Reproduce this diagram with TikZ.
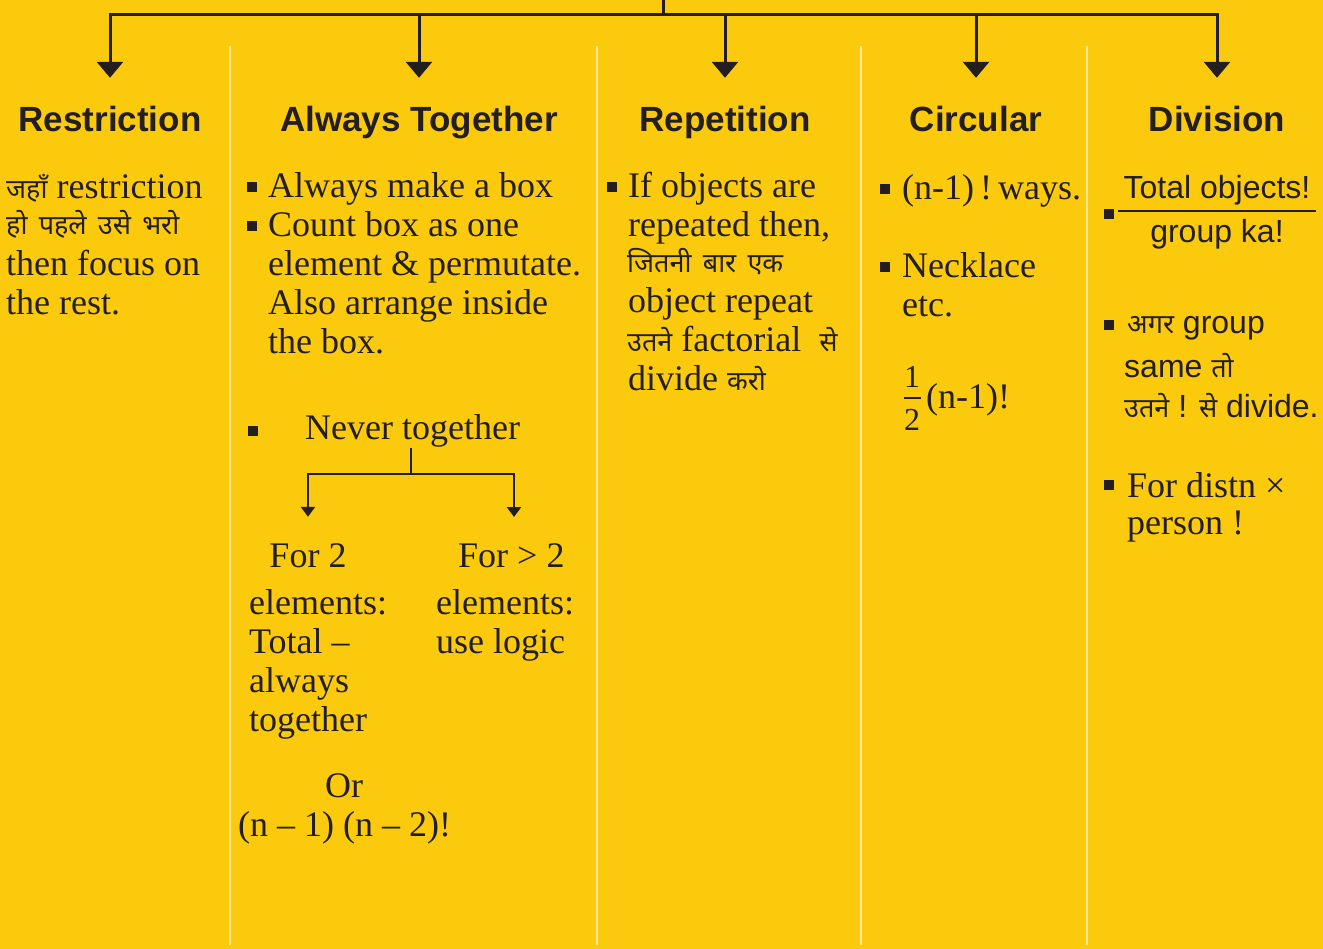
\documentclass[tikz,border=0pt]{standalone}
\usepackage{fontspec}
\setmainfont{Liberation Serif}
\newfontfamily\headfont{Liberation Sans}
\newfontfamily\devfont[Script=Devanagari,WordSpace=1.6]{Noto Sans}
\usetikzlibrary{arrows.meta}
\definecolor{bg}{RGB}{252,202,12}
\definecolor{ink}{RGB}{35,31,32}
\definecolor{sepcol}{RGB}{255,232,150}
\newcommand\hin[1]{{\devfont\fontsize{27}{39}\selectfont #1}}
\begin{document}
\begin{tikzpicture}[x=1pt,y=-1pt,
  head/.style={font=\headfont\bfseries\fontsize{35}{40}\selectfont, anchor=base, inner sep=0pt, text height=25pt, text=ink},
  body/.style={font=\fontsize{36}{39}\selectfont, anchor=base west, inner sep=0pt, text=ink},
  bodyc/.style={font=\fontsize{36}{39}\selectfont, anchor=base, inner sep=0pt, text=ink},
  sans/.style={font=\headfont\fontsize{32}{38}\selectfont, anchor=base west, inner sep=0pt, text=ink},
  sansc/.style={font=\headfont\fontsize{32}{38}\selectfont, anchor=base, inner sep=0pt, text=ink},
  bul/.style={fill=ink, minimum size=10pt, inner sep=0pt},
  conn/.style={draw=ink, line width=3pt},
  bigarrow/.style={conn, -{Triangle[width=26pt,length=16pt]}, shorten >=29pt},
  thinconn/.style={draw=ink, line width=2.5pt},
  smallarrow/.style={thinconn, -{Triangle[width=14pt,length=10pt]}, shorten >=27pt},
  sepline/.style={draw=sepcol, line width=1.5pt},
  barline/.style={draw=ink, line width=1.5pt}
]
\fill[bg] (0,0) rectangle (1323,949);
\useasboundingbox (0,0) rectangle (1323,949);

% separators
\draw[sepline] (230,46) -- (230,945);
\draw[sepline] (597,46) -- (597,945);
\draw[sepline] (861,46) -- (861,945);
\draw[sepline] (1087,46) -- (1087,945);

% headings
\node[head] (h1) at (110,132) {Restriction};
\node[head] (h2) at (419,132) {Always Together};
\node[head] (h3) at (725,132) {Repetition};
\node[head] (h4) at (976,132) {Circular};
\node[head] (h5) at (1217,132) {Division};

% top connector
\coordinate (stub) at (663,0);
\coordinate (hub) at (663,15);
\draw[conn] (stub) -- (hub);
\draw[bigarrow] (hub) -| (h1);
\draw[bigarrow] (hub) -| (h2);
\draw[bigarrow] (hub) -| (h3);
\draw[bigarrow] (hub) -| (h4);
\draw[bigarrow] (hub) -| (h5);

% Restriction column
\node[body] (r1) at (6,199) {\hin{जहाँ}\ restriction};
\node[body] (r2) at (6,235) {\hin{हो पहले उसे भरो}};
\node[body] (r3) at (6,276) {then focus on};
\node[body] (r4) at (6,315) {the rest.};

% Always Together column
\node[bul] (ba1) at (252,187) {};
\node[bul] (ba2) at (252,226) {};
\node[body] (a1) at (268,198) {Always make a box};
\node[body] (a2) at (268,237) {Count box as one};
\node[body] (a3) at (268,276) {element \& permutate.};
\node[body] (a4) at (268,315) {Also arrange inside};
\node[body] (a5) at (268,354) {the box.};
\node[bul] (ba3) at (253,431) {};
\node[body] (nt) at (305,440) {Never together};
\coordinate (ntj) at (411,474);
\node[bodyc, text height=23pt] (f2) at (308,567) {For 2};
\node[body] (f3) at (458,567) {For > 2};
\coordinate (f3top) at (514,544);
\draw[thinconn] (ntj |- nt.south) -- (ntj);
\draw[smallarrow] (ntj) -| (f2);
\draw[smallarrow] (ntj) -| (f3top);
\node[body] (e1) at (249,614) {elements:};
\node[body] (t1) at (249,653) {Total –};
\node[body] (t2) at (249,692) {always};
\node[body] (t3) at (249,731) {together};
\node[body] (e2) at (436,614) {elements:};
\node[body] (u1) at (436,653) {use logic};
\node[body] (or) at (325,797) {Or};
\node[body] (nn) at (238,836) {(n – 1) (n – 2)!};

% Repetition column
\node[bul] (bp1) at (612,187) {};
\node[body] (p1) at (628,198) {If objects are};
\node[body] (p2) at (628,237) {repeated then,};
\node[body] (p3) at (627,273) {\hin{जितनी बार एक}};
\node[body] (p4) at (628,313) {object repeat};
\node[body] (p5) at (627,352) {\hin{उतने} factorial\ \ \hin{से}};
\node[body] (p6) at (628,391) {divide \hin{करो}};

% Circular column
\node[bul] (bc1) at (885,189) {};
\node[body] (c1) at (902,200) {(n-1)\,!\,ways.};
\node[bul] (bc2) at (885,267) {};
\node[body] (c2) at (902,278) {Necklace};
\node[body] (c3) at (902,317) {etc.};
\node[bodyc, font=\fontsize{32}{36}\selectfont] (fn) at (912,388) {1};
\node[bodyc, font=\fontsize{32}{36}\selectfont] (fd) at (912,431) {2};
\draw[barline] (904,398) -- (921,398);
\node[body] (fx) at (926,409) {(n-1)!};

% Division column
\node[bul] (bd1) at (1109,214) {};
\node[sansc] (dn) at (1217,199) {Total objects!};
\draw[barline] (1118,211) -- (1316,211);
\node[sansc] (dd) at (1217,243) {group ka!};
\node[bul] (bd2) at (1109,325) {};
\node[sans] (d1) at (1127,334) {\hin{अगर} group};
\node[sans] (d2) at (1124,378) {same \hin{तो}};
\node[sans] (d3) at (1124,418) {\hin{उतने} ! \hin{से} divide.};
\node[bul] (bd3) at (1109,485) {};
\node[body] (d4) at (1127,497) {For distn ×};
\node[body] (d5) at (1127,534) {person !};
\end{tikzpicture}
\end{document}
